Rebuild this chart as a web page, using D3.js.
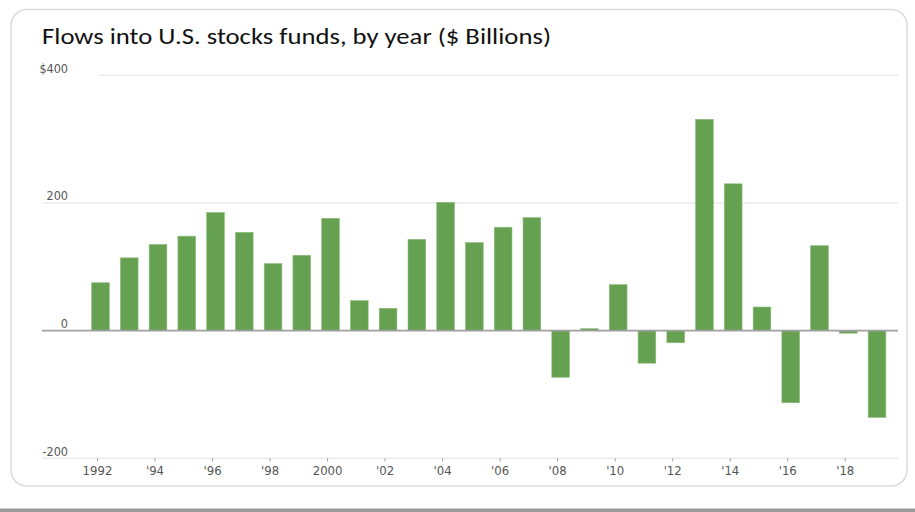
<!DOCTYPE html>
<html>
<head>
<meta charset="utf-8">
<script src="https://cdn.jsdelivr.net/npm/d3@7"></script>
<style>
  html, body { margin: 0; padding: 0; background: #ffffff; }
  svg { display: block; }
</style>
</head>
<body>
<svg id="chart" width="915" height="512"></svg>
<script>
const years = [1992,1993,1994,1995,1996,1997,1998,1999,2000,2001,2002,2003,2004,2005,
               2006,2007,2008,2009,2010,2011,2012,2013,2014,2015,2016,2017,2018,2019];
const flows = [75,114,135,148,185,154,105,118,176,47,35,143,201,138,
               162,177,-73,3,72,-51,-19,331,230,37,-113,133,-4,-136];
const yTicks = [400,200,0,-200];
const yTickLabels = ["$400","200","0","-200"];
const xTickYears = [1992,1994,1996,1998,2000,2002,2004,2006,2008,2010,2012,2014,2016,2018];
const xTickLabels = ["1992","'94","'96","'98","2000","'02","'04","'06","'08","'10","'12","'14","'16","'18"];
const title = "Flows into U.S. stocks funds, by year ($ Billions)";

const svg = d3.select("#chart");

// bottom gray strip
svg.append("rect").attr("x",0).attr("y",508.5).attr("width",915).attr("height",3.5).attr("fill","#9a9a9a");

// card
svg.append("rect")
  .attr("x",11).attr("y",9.5).attr("width",896).attr("height",476.5)
  .attr("rx",16).attr("ry",16)
  .attr("fill","#ffffff").attr("stroke","#dcdcdc").attr("stroke-width",1.6);

// title
svg.append("text")
  .attr("x",42).attr("y",44)
  .attr("font-family","Carlito, Lato, 'Open Sans', sans-serif")
  .attr("font-size",23)
  .attr("fill","#111")
  .attr("textLength",509).attr("lengthAdjust","spacingAndGlyphs")
  .text(title);

const x = d3.scaleBand().domain(years).range([86.1, 891.4]).paddingInner(0.385).paddingOuter(0.1925);
const y = d3.scaleLinear().domain([-200,400]).range([458.3, 75.3]);

const labelFont = "'Liberation Sans Narrow', 'Arial Narrow', 'DejaVu Sans Condensed', sans-serif";

// gridlines
const gridStart = {400: 99, 200: 42, 0: 42, "-200": 42};
svg.append("g").selectAll("line").data(yTicks.filter(d => d !== 0)).join("line")
  .attr("x1", d => gridStart[d]).attr("x2", 898)
  .attr("y1", d => y(d)).attr("y2", d => y(d))
  .attr("stroke","#ebebeb").attr("stroke-width",1.6);

// y labels
svg.append("g").selectAll("text").data(yTicks).join("text")
  .attr("x", 68).attr("y", d => y(d) - 2.5)
  .attr("text-anchor","end")
  .attr("font-family", labelFont).attr("font-size", 12.5)
  .attr("fill","#555")
  .text((d,i) => yTickLabels[i]);

// bars
svg.append("g").selectAll("rect").data(years).join("rect")
  .attr("x", d => x(d))
  .attr("width", x.bandwidth())
  .attr("y", (d,i) => y(Math.max(0, flows[i])))
  .attr("height", (d,i) => Math.abs(y(flows[i]) - y(0)))
  .attr("fill","#66a152")
  .attr("stroke","#8cbc7c").attr("stroke-width",0.6);

// zero line
svg.append("line")
  .attr("x1",42).attr("x2",898).attr("y1",y(0)).attr("y2",y(0))
  .attr("stroke","#a0a0a0").attr("stroke-width",1.6);

// x axis ticks + labels
const xAxis = d3.axisBottom(x)
  .tickValues(xTickYears)
  .tickFormat((d) => xTickLabels[xTickYears.indexOf(d)])
  .tickSize(3).tickPadding(4);
const gx = svg.append("g").attr("transform", `translate(-3,${y(-200)})`).call(xAxis);
gx.select(".domain").remove();
gx.selectAll(".tick line").attr("stroke","#999").attr("stroke-width",1);
gx.selectAll(".tick text")
  .attr("font-family", labelFont).attr("font-size", 13)
  .attr("fill","#555");
</script>
</body>
</html>
